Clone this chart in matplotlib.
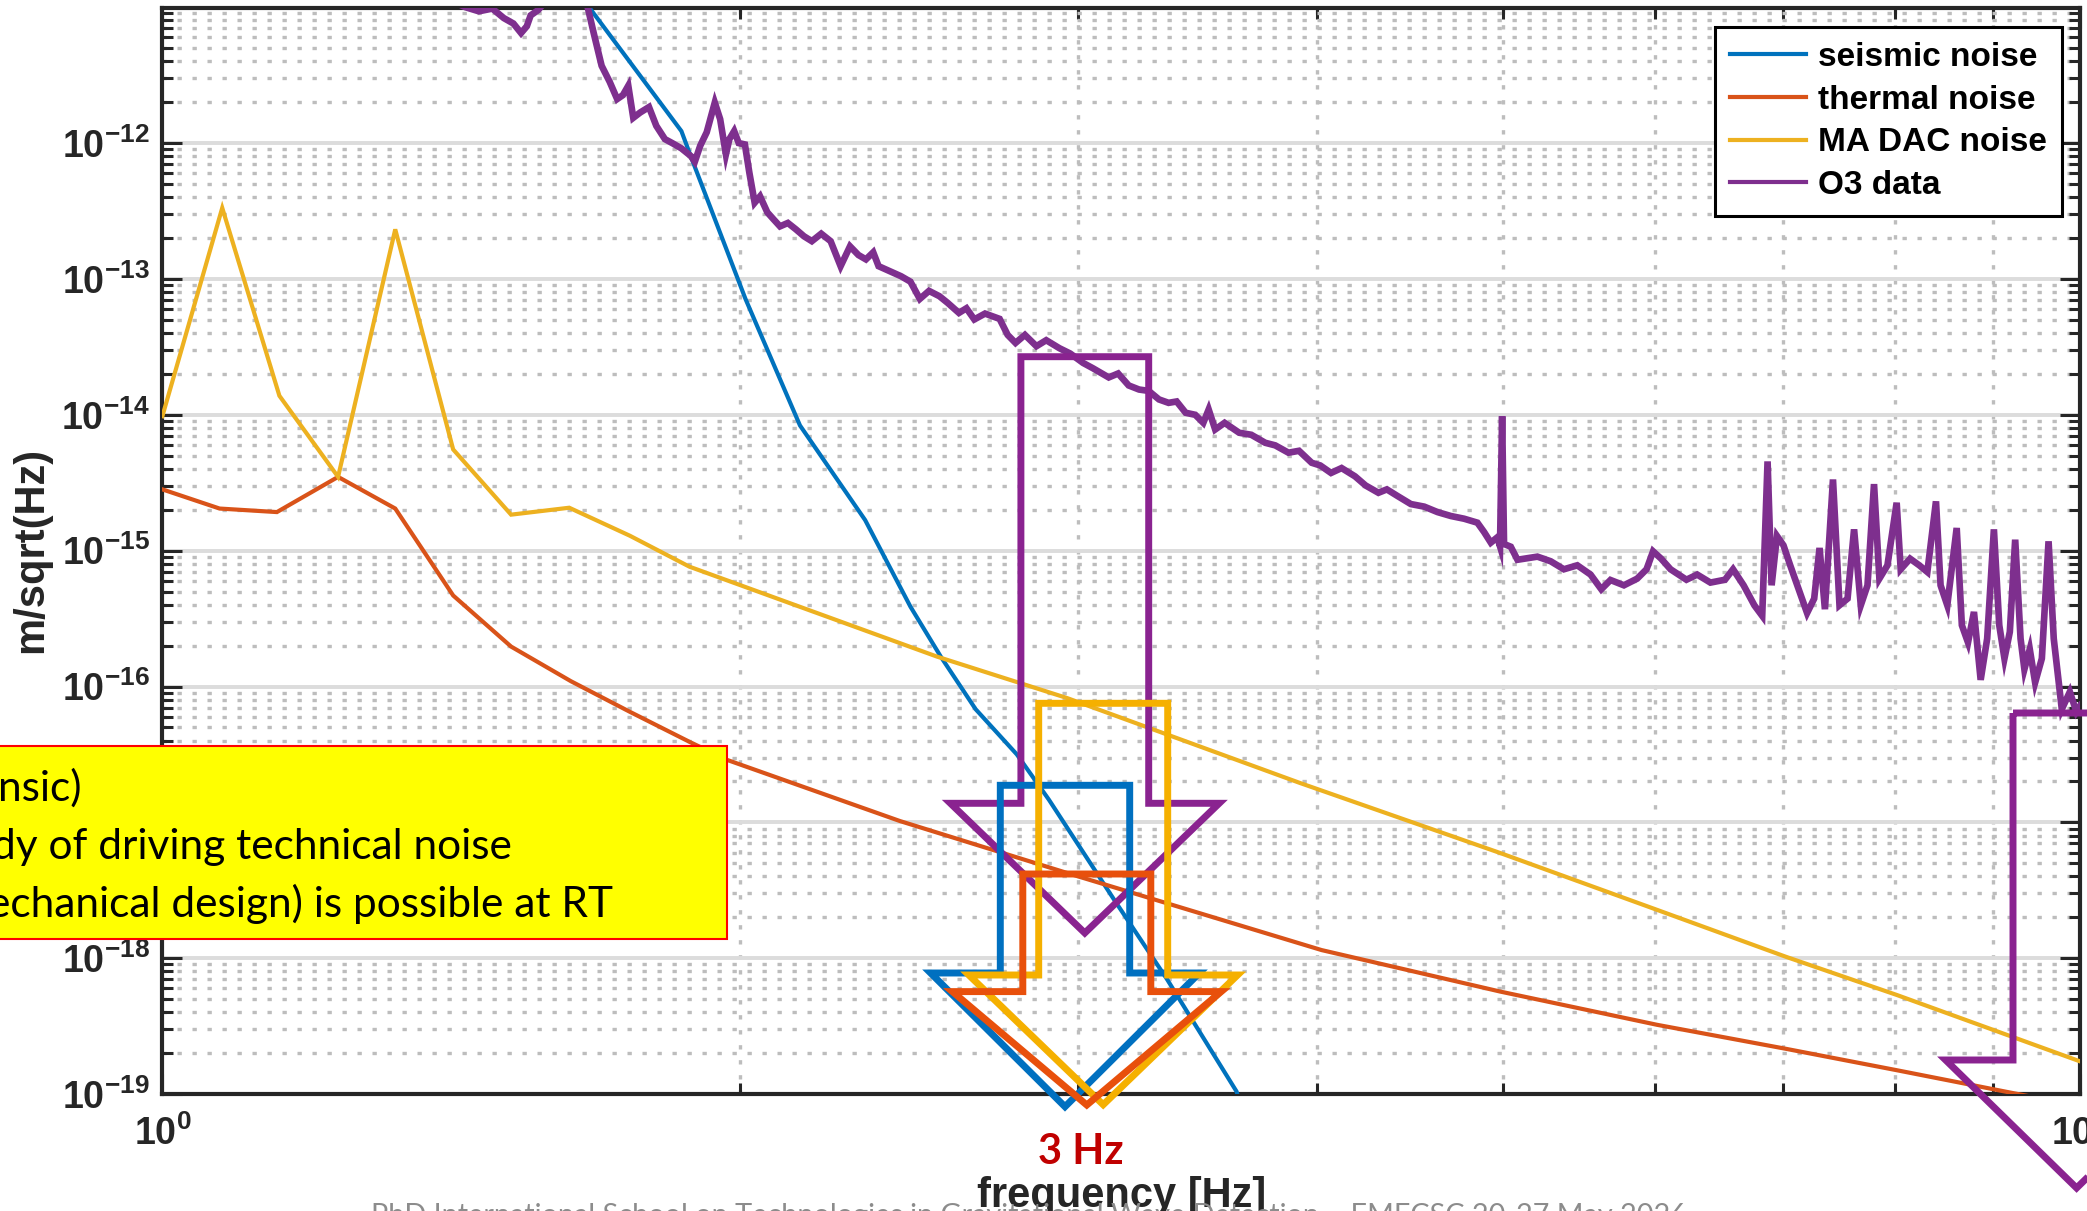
import numpy as np
import matplotlib
matplotlib.use("Agg")
import matplotlib.pyplot as plt
from matplotlib.patches import Polygon, Rectangle
from matplotlib.ticker import FixedLocator, LogLocator, NullFormatter

W, H = 2087, 1211

plt.rcParams["mathtext.fontset"] = "custom"
plt.rcParams["mathtext.bf"] = "Liberation Sans:bold"
plt.rcParams["mathtext.rm"] = "Liberation Sans:bold"

# noise budget curves: log10(f / Hz) and log10(ASD / m/sqrt(Hz))
seismic_logf = [0.2214, 0.2706, 0.2755, 0.3040, 0.3324, 0.3664, 0.3900, 0.4060,
                0.4240, 0.4455, 0.4622, 0.4962, 0.5239, 0.5600, 0.5615]
seismic_logasd = [-10.98, -11.912, -12.098, -13.147, -14.078, -14.775, -15.412, -15.784,
                  -16.167, -16.500, -16.833, -17.569, -18.157, -18.98, -19.05]

thermal_logf = [0.0, 0.0298, 0.0597, 0.0916, 0.1214, 0.1516, 0.1818, 0.2130, 0.2437, 0.2748,
                0.2942, 0.3845, 0.4780, 0.6044, 0.6974, 0.7793, 0.8466, 0.9042, 0.9639, 0.975]
thermal_logasd = [-14.549, -14.69, -14.716, -14.457, -14.69, -15.33, -15.706, -15.961, -16.186, -16.407,
                  -16.539, -16.99, -17.40, -17.94, -18.245, -18.49, -18.667, -18.824, -18.99, -19.02]

dac_logf = [0.0, 0.0312, 0.061, 0.0916, 0.1214, 0.1516, 0.1818, 0.2121, 0.2437,
            0.2748, 0.4039, 0.4717, 0.5931, 0.6974, 0.7793, 0.8466, 0.9042, 1.0]
dac_logasd = [-14.01, -12.477, -13.86, -14.457, -12.635, -14.255, -14.735, -14.684, -14.89,
              -15.118, -15.78, -16.085, -16.71, -17.225, -17.644, -17.99, -18.27, -18.76]

o3_logf = [0.150, 0.158, 0.165, 0.172, 0.178, 0.183, 0.187, 0.190, 0.192, 0.196, 0.200, 0.210, 0.219,
           0.2214, 0.2248, 0.2290, 0.2332, 0.2371, 0.2401, 0.2429, 0.2455, 0.2491, 0.2537, 0.2575, 0.2620,
           0.2658, 0.2706, 0.2755, 0.2776,
           0.2804, 0.2838, 0.2880, 0.2908, 0.2938, 0.2956, 0.2981, 0.3005, 0.3037, 0.3060, 0.3088, 0.3116,
           0.3154, 0.3185, 0.3220, 0.3261, 0.3303, 0.3345, 0.3386, 0.3435,
           0.3484, 0.3536, 0.3585, 0.3629, 0.3668, 0.3706, 0.3734, 0.3789, 0.3851, 0.3900, 0.3949, 0.3997,
           0.4051, 0.4094, 0.4153, 0.4192, 0.4233, 0.4289, 0.4365, 0.4407,
           0.4448, 0.4497, 0.4557, 0.4608, 0.4677, 0.4733, 0.4800, 0.4851, 0.4934, 0.4983, 0.5038, 0.5092,
           0.5142, 0.5196, 0.5246, 0.5288, 0.5335, 0.5385, 0.5427, 0.5455,
           0.5489, 0.5538, 0.5614, 0.5677, 0.5750, 0.5802, 0.5871, 0.5926, 0.5992, 0.6037, 0.6093, 0.6148,
           0.6218, 0.6273, 0.6340, 0.6384, 0.6440, 0.6509, 0.6579, 0.6648,
           0.6718, 0.6787, 0.6856, 0.6891, 0.6926, 0.6960, 0.6974, 0.6985, 0.6995, 0.7030, 0.7065, 0.7169,
           0.7238, 0.7307, 0.7377, 0.7446, 0.7502, 0.7550, 0.7620, 0.7689,
           0.7738, 0.7772, 0.7814, 0.7863, 0.7946, 0.8002, 0.8071, 0.8147, 0.8189, 0.8244, 0.8300, 0.8341,
           0.8369, 0.8390, 0.8418, 0.8452, 0.8487, 0.8536, 0.8575, 0.8612,
           0.8640, 0.8668, 0.8710, 0.8744, 0.8786, 0.8820, 0.8855, 0.8890, 0.8924, 0.8952, 0.8994, 0.9042,
           0.9063, 0.9112, 0.9160, 0.9202, 0.9247, 0.9271, 0.9306, 0.9355,
           0.9382, 0.9414, 0.9445, 0.9480, 0.9514, 0.9549, 0.9577, 0.9604, 0.9632, 0.9660, 0.9688, 0.9708,
           0.9736, 0.9764, 0.9799, 0.9834, 0.9861, 0.9903, 0.9945, 0.9979, 1.0]
o3_logasd = [-10.95, -11.00, -11.03, -11.01, -11.08, -11.12, -11.19, -11.14, -11.06, -11.02, -10.95, -10.80, -10.90,
             -10.98, -11.186, -11.431, -11.549, -11.676, -11.647, -11.578, -11.814, -11.775, -11.735, -11.873, -11.971,
             -12.00, -12.039, -12.095, -12.137,
             -12.02, -11.92, -11.702, -11.824, -12.083, -11.971, -11.912, -12.0, -12.01, -12.216, -12.439, -12.392,
             -12.51, -12.559, -12.613, -12.588, -12.635, -12.686, -12.722, -12.667,
             -12.722, -12.906, -12.76, -12.824, -12.856, -12.804, -12.906, -12.941, -12.98, -13.02, -13.147, -13.088,
             -13.127, -13.176, -13.25, -13.216, -13.298, -13.255, -13.294, -13.412,
             -13.471, -13.412, -13.495, -13.451, -13.51, -13.549, -13.618, -13.657, -13.725, -13.696, -13.784, -13.814,
             -13.824, -13.887, -13.912, -13.902, -13.985, -14.0, -14.059, -13.961,
             -14.108, -14.059, -14.132, -14.147, -14.206, -14.225, -14.279, -14.265, -14.353, -14.373, -14.428, -14.392,
             -14.453, -14.52, -14.574, -14.549, -14.598, -14.657, -14.676, -14.716,
             -14.745, -14.765, -14.794, -14.863, -14.941, -14.902, -14.968, -14.01, -14.951, -14.971, -15.067, -15.044,
             -15.078, -15.137, -15.108, -15.176, -15.284, -15.216, -15.255, -15.206,
             -15.137, -15.005, -15.059, -15.137, -15.214, -15.176, -15.235, -15.214, -15.137, -15.255, -15.402, -15.48,
             -14.343, -15.255, -14.892, -14.961, -15.108, -15.304, -15.459, -15.353,
             -14.98, -15.431, -14.476, -15.402, -15.353, -14.843, -15.402, -15.255, -14.51, -15.206, -15.108, -14.647,
             -15.137, -15.059, -15.108, -15.157, -14.637, -15.255, -15.402, -14.833,
             -15.549, -15.676, -15.451, -15.951, -15.647, -14.843, -15.549, -15.794, -15.598, -14.919, -15.647, -15.873,
             -15.725, -15.971, -15.794, -14.931, -15.647, -16.167, -16.039, -16.186, -16.14]

series_names = ["seismic noise", "thermal noise", "MA DAC noise", "O3 data"]
series_colors = ["#0072BD", "#D95319", "#EDB120", "#7E2F8E"]
series_widths = [3.0, 3.0, 3.0, 4.8]

ytick_exponents = [-19, -18, -17, -16, -15, -14, -13, -12]
xtick_exponents = [0, 1]

box_lines = ["nsic)", "dy of driving technical noise", "echanical design) is possible at RT"]
marker_text = "3 Hz"
footer_text = "PhD International School on Technologies in Gravitational Wave Detection \u2013 EMFCSC 20-27 May 2026"

ink = "#262626"
axis_font = {"family": "Liberation Sans", "weight": "bold"}

fig = plt.figure(figsize=(W / 100, H / 100), dpi=100)
ax_left, ax_right, ax_top, ax_bottom = 162.4, 2080.4, 7.9, 1094.1
ax = fig.add_axes([ax_left / W, 1 - ax_bottom / H, (ax_right - ax_left) / W, (ax_bottom - ax_top) / H])

curves = [(seismic_logf, seismic_logasd), (thermal_logf, thermal_logasd),
          (dac_logf, dac_logasd), (o3_logf, o3_logasd)]
handles = []
for (lf, la), name, col, lw in zip(curves, series_names, series_colors, series_widths):
    h, = ax.plot(10.0 ** np.array(lf), 10.0 ** np.array(la), color=col, lw=lw,
                 solid_joinstyle="miter", label=name, zorder=3)
    handles.append(h)

ax.set_xscale("log")
ax.set_yscale("log")
ax.set_xlim(1, 10)
ax.set_ylim(1e-19, 10 ** -11.005)

ax.set_xticks([10.0 ** e for e in xtick_exponents])
ax.set_xticklabels([r"$\mathbf{10^{%d}}$" % e for e in xtick_exponents])
ax.xaxis.set_minor_locator(FixedLocator(np.arange(2, 10)))
ax.xaxis.set_minor_formatter(NullFormatter())
ax.set_yticks([10.0 ** e for e in ytick_exponents])
ax.set_yticklabels([r"$\mathbf{10^{%d}}$" % e for e in ytick_exponents])
ax.yaxis.set_minor_locator(LogLocator(base=10, subs=np.arange(2, 10), numticks=30))
ax.yaxis.set_minor_formatter(NullFormatter())

ax.tick_params(which="both", direction="in", top=True, right=True, color=ink, width=2.2,
               labelsize=27, labelcolor=ink)
ax.tick_params(which="major", length=14.5)
ax.tick_params(which="minor", length=8)
ax.tick_params(axis="y", which="major", pad=9)
ax.tick_params(axis="x", which="major", pad=15)
for sp in ax.spines.values():
    sp.set_linewidth(3.0)
    sp.set_color(ink)

ax.set_axisbelow(True)
ax.grid(which="major", color="#DCDCDC", lw=2.8, ls="-")
ax.grid(which="minor", color="#BDBDBD", lw=2.4, ls=(0, (1.3, 3.2)))

ax.set_ylabel("m/sqrt(Hz)", fontsize=30, color=ink, **axis_font)
ax.yaxis.set_label_coords(-0.058, 0.501)
ax.set_xlabel("frequency [Hz]", fontsize=30, color=ink, **axis_font)
ax.xaxis.set_label_coords(0.5, -0.0755)

leg = ax.legend(handles=handles, loc="upper right", bbox_to_anchor=(0.9904, 0.9824),
                prop={"family": "Liberation Sans", "weight": "bold", "size": 24},
                frameon=True, fancybox=False, framealpha=1, edgecolor="black",
                borderpad=0.45, handlelength=2.3, handletextpad=0.35, labelspacing=0.35,
                borderaxespad=0)
leg.get_frame().set_linewidth(2.2)
for ln in leg.get_lines():
    ln.set_linewidth(3.0)


def fig_xy(x, y):
    # pixel position measured from the top-left corner -> figure fraction
    return x / W, 1 - y / H


# yellow call-out box, partly outside the left edge
bx0, by0 = fig_xy(-10, 939)
bx1, by1 = fig_xy(727, 746)
fig.add_artist(Rectangle((bx0, by0), bx1 - bx0, by1 - by0, transform=fig.transFigure,
                         facecolor="#FFFF00", edgecolor="#FF0000", lw=1.5, zorder=4))
for s, (tx, ty) in zip(box_lines, [(-2, 801), (-8, 859), (-12, 917)]):
    fig.text(*fig_xy(tx, ty), s, family="Lato", fontsize=30.5, color="black",
             ha="left", va="baseline", zorder=5)


def down_arrow(cx, top, neck, tip, shaft, head):
    pts = [(cx - shaft, top), (cx + shaft, top), (cx + shaft, neck), (cx + head, neck),
           (cx, tip), (cx - head, neck), (cx - shaft, neck)]
    return [fig_xy(x, y) for x, y in pts]


arrow_specs = [
    ("#8A2390", 1084.8, 356.7, 803.3, 933.0, 63.9, 134.4),
    ("#8A2390", 2076.6, 713.0, 1060.0, 1188.0, 63.6, 131.0),
    ("#0070C0", 1065.0, 785.3, 973.0, 1106.7, 64.7, 134.4),
    ("#F5B000", 1103.2, 703.3, 975.0, 1104.7, 64.5, 134.4),
    ("#E8500C", 1086.8, 874.0, 991.6, 1105.0, 64.0, 134.4),
]
for col, cx, top, neck, tip, shaft, head in arrow_specs:
    fig.add_artist(Polygon(down_arrow(cx, top, neck, tip, shaft, head), closed=True,
                           transform=fig.transFigure, facecolor="none", edgecolor=col,
                           lw=5.0, joinstyle="miter", zorder=6))

fig.text(*fig_xy(1081, 1152), marker_text, family="Lato", fontweight="bold", fontsize=30,
         color="#C00000", ha="center", va="center", zorder=7)
fig.text(*fig_xy(1029, 1203), footer_text, family="Lato", fontsize=20.8, color="#8C8C8C",
         ha="center", va="top", zorder=7)

fig.savefig("out.png", dpi=100, facecolor="white")
